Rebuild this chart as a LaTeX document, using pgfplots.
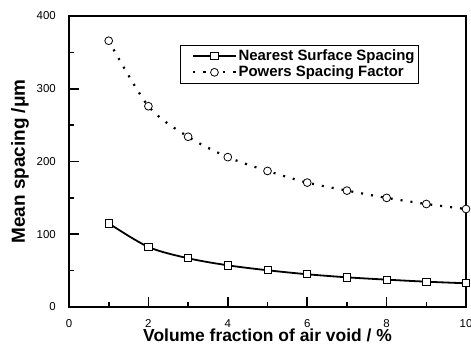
\documentclass[border=0pt]{standalone}
\usepackage{fontspec}
\setmainfont{Liberation Sans}
\usepackage{pgfplots}
\pgfplotsset{compat=1.18}
\begin{document}
\begin{tikzpicture}[x=1bp,y=1bp]
\path[use as bounding box] (0,0) rectangle (471,346);
\begin{axis}[
  at={(69bp,39bp)}, anchor=south west,
  scale only axis, width=397bp, height=291bp,
  xmin=0, xmax=10, ymin=0, ymax=400,
  xtick={0,2,4,6,8,10}, ytick={0,100,200,300,400},
  minor xtick={1,3,5,7,9}, minor ytick={50,150,250,350},
  tick align=inside, xtick pos=bottom, ytick pos=left,
  major tick length=10bp, minor tick length=5bp,
  every tick/.style={line width=1.6bp, black},
  axis line style={line width=1.8bp},
  /pgf/number format/assume math mode=true,
  tick label style={font=\fontsize{11.5}{13}\selectfont, inner sep=0pt},
  xticklabel style={anchor=north, yshift=-12bp},
  yticklabel style={anchor=east, xshift=-13bp},
  xlabel={Volume fraction of air void / \%},
  ylabel={Mean spacing /μm},
  xlabel style={font=\fontsize{17.5}{19}\selectfont\bfseries,
    at={(axis description cs:0.5,0)}, anchor=north, inner sep=0pt, yshift=-22bp},
  ylabel style={font=\fontsize{19}{21}\selectfont\bfseries,
    at={(axis description cs:0,0.5)}, anchor=north, inner sep=0pt, yshift=58bp},
  legend style={at={(0.2796,0.9003)}, anchor=north west, draw=black, line width=0.7bp,
    font=\fontsize{15}{17}\selectfont\bfseries, row sep=0bp, inner xsep=2bp, inner ysep=2.5bp},
  legend cell align=left,
  legend image code/.code={%
    \path (0bp,0bp);
    \draw[mark repeat=2, mark phase=2] plot coordinates {(10bp,0bp) (31bp,0bp) (52bp,0bp)};},
]
\addplot[black, line width=1.8bp, smooth, mark=square*, mark size=3.6bp,
  mark options={fill=white, draw=black, line width=0.8bp, solid}]
  coordinates {(1,115) (2,82.5) (3,67) (4,57.3) (5,50.5) (6,45) (7,40.8) (8,37.6) (9,34.8) (10,32.6)};
\addlegendentry{Nearest Surface Spacing}
\addplot[black, line width=2.2bp, smooth, dash pattern=on 2bp off 8bp, mark=*, mark size=3.9bp,
  mark options={fill=white, draw=black, line width=0.8bp, solid}]
  coordinates {(1,366) (2,276) (3,234) (4,206) (5,187) (6,171) (7,160) (8,150) (9,141.6) (10,134.7)};
\addlegendentry{Powers Spacing Factor}
\end{axis}
\end{tikzpicture}
\end{document}
